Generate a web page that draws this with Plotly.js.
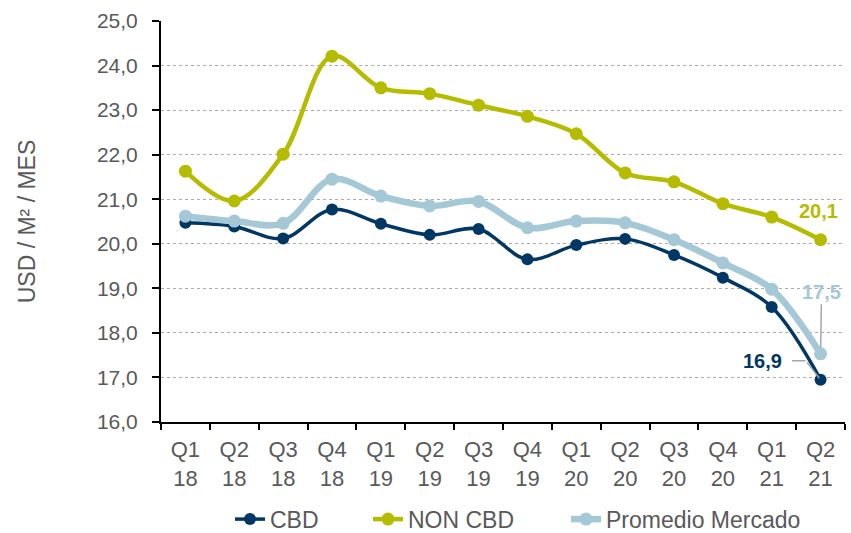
<!DOCTYPE html>
<html>
<head>
<meta charset="utf-8">
<script src="https://cdn.plot.ly/plotly-3.0.1.min.js"></script>
<style>html,body{margin:0;padding:0;background:#fff;}#chart{width:851px;height:533px;}</style>
</head>
<body>
<div id="chart"></div>
<script>
const categories = ['Q1<br>18','Q2<br>18','Q3<br>18','Q4<br>18','Q1<br>19','Q2<br>19','Q3<br>19','Q4<br>19','Q1<br>20','Q2<br>20','Q3<br>20','Q4<br>20','Q1<br>21','Q2<br>21'];
const cbd      = [20.47, 20.39, 20.12, 20.77, 20.45, 20.20, 20.33, 19.65, 19.97, 20.11, 19.75, 19.24, 18.58, 16.95];
const nonCbd   = [21.63, 20.96, 22.01, 24.21, 23.50, 23.37, 23.11, 22.86, 22.47, 21.59, 21.39, 20.90, 20.60, 20.09];
const promedio = [20.62, 20.51, 20.46, 21.45, 21.07, 20.85, 20.95, 20.36, 20.51, 20.47, 20.09, 19.57, 18.98, 17.53];
const seriesNames = ['CBD', 'NON CBD', 'Promedio Mercado'];
const labelTexts = ['16,9', '20,1', '17,5'];

const cNavy = '#003764', cOlive = '#B5BC00', cLight = '#A4C8D6';
const gray = '#595959';
const font = 'Liberation Sans, Arial, sans-serif';
const last = categories.length - 1;

const traces = [
  {x: categories, y: cbd, name: seriesNames[0], type: 'scatter', mode: 'lines+markers', legend: 'legend',
   line: {color: cNavy, width: 3.5, shape: 'spline', smoothing: 1}, marker: {color: cNavy, size: 12}},
  {x: categories, y: nonCbd, name: seriesNames[1], type: 'scatter', mode: 'lines+markers', legend: 'legend2',
   line: {color: cOlive, width: 4.5, shape: 'spline', smoothing: 1}, marker: {color: cOlive, size: 13}},
  {x: categories, y: promedio, name: seriesNames[2], type: 'scatter', mode: 'lines+markers', legend: 'legend3',
   line: {color: cLight, width: 6.5, shape: 'spline', smoothing: 1}, marker: {color: cLight, size: 13}}
];

function legendAt(px) {
  return {orientation: 'h', xref: 'container', yref: 'container', x: px / 851, xanchor: 'left',
          y: 0.026, yanchor: 'middle', bgcolor: 'rgba(0,0,0,0)',
          font: {family: font, size: 23, color: gray}};
}

const layout = {
  width: 851, height: 533,
  margin: {l: 161, r: 6, t: 21, b: 111, pad: 0},
  paper_bgcolor: '#fff', plot_bgcolor: '#fff',
  separators: ',.',
  font: {family: font, color: gray, size: 21},
  showlegend: true,
  legend: legendAt(230),
  legend2: legendAt(368),
  legend3: legendAt(566),
  xaxis: {type: 'category', range: [-0.5, last + 0.5], showline: true, linecolor: '#000', linewidth: 2,
          ticks: 'outside', tickson: 'boundaries', ticklen: 6, tickcolor: '#000', tickwidth: 2,
          ticklabelstandoff: 7, automargin: false,
          showgrid: false, zeroline: false, tickfont: {family: font, size: 22, color: gray}, fixedrange: true},
  yaxis: {range: [16, 25], dtick: 1, tick0: 16, tickformat: '.1f', showline: true, linecolor: '#000', linewidth: 2,
          ticks: 'outside', ticklen: 7, tickcolor: '#000', tickwidth: 2, ticklabelstandoff: 10, automargin: false,
          showgrid: true, gridcolor: '#ABABAB', griddash: 'dot', gridwidth: 1, zeroline: false,
          tickfont: {family: font, size: 21, color: gray},
          title: {text: 'USD / M² / MES', font: {family: font, size: 23, color: gray}, standoff: 55}},
  annotations: [
    {x: categories[last], y: cbd[last], text: labelTexts[0], showarrow: false, xshift: -58, yshift: 19,
     font: {family: font, size: 20, color: cNavy, weight: 'bold'}},
    {x: categories[last], y: cbd[last], text: ' ', font: {size: 1}, showarrow: true, arrowhead: 0,
     arrowcolor: '#A6A6A6', arrowwidth: 1.5, ax: -15, ay: -19, standoff: 2},
    {x: categories[last], y: cbd[last], text: ' ', font: {size: 1}, showarrow: true, arrowhead: 0,
     arrowcolor: '#A6A6A6', arrowwidth: 1.5, xshift: -15, yshift: 19, ax: -15, ay: 0, standoff: 0},
    {x: categories[last], y: nonCbd[last], text: labelTexts[1], showarrow: false, xshift: -2, yshift: 29,
     font: {family: font, size: 20, color: cOlive, weight: 'bold'}},
    {x: categories[last], y: promedio[last], text: labelTexts[2], showarrow: true, arrowhead: 0,
     arrowcolor: '#A6A6A6', arrowwidth: 1.5, ax: 1, ay: -62, standoff: 6,
     font: {family: font, size: 20, color: cLight, weight: 'bold'}}
  ]
};

Plotly.newPlot('chart', traces, layout, {displayModeBar: false, staticPlot: true});
</script>
</body>
</html>
